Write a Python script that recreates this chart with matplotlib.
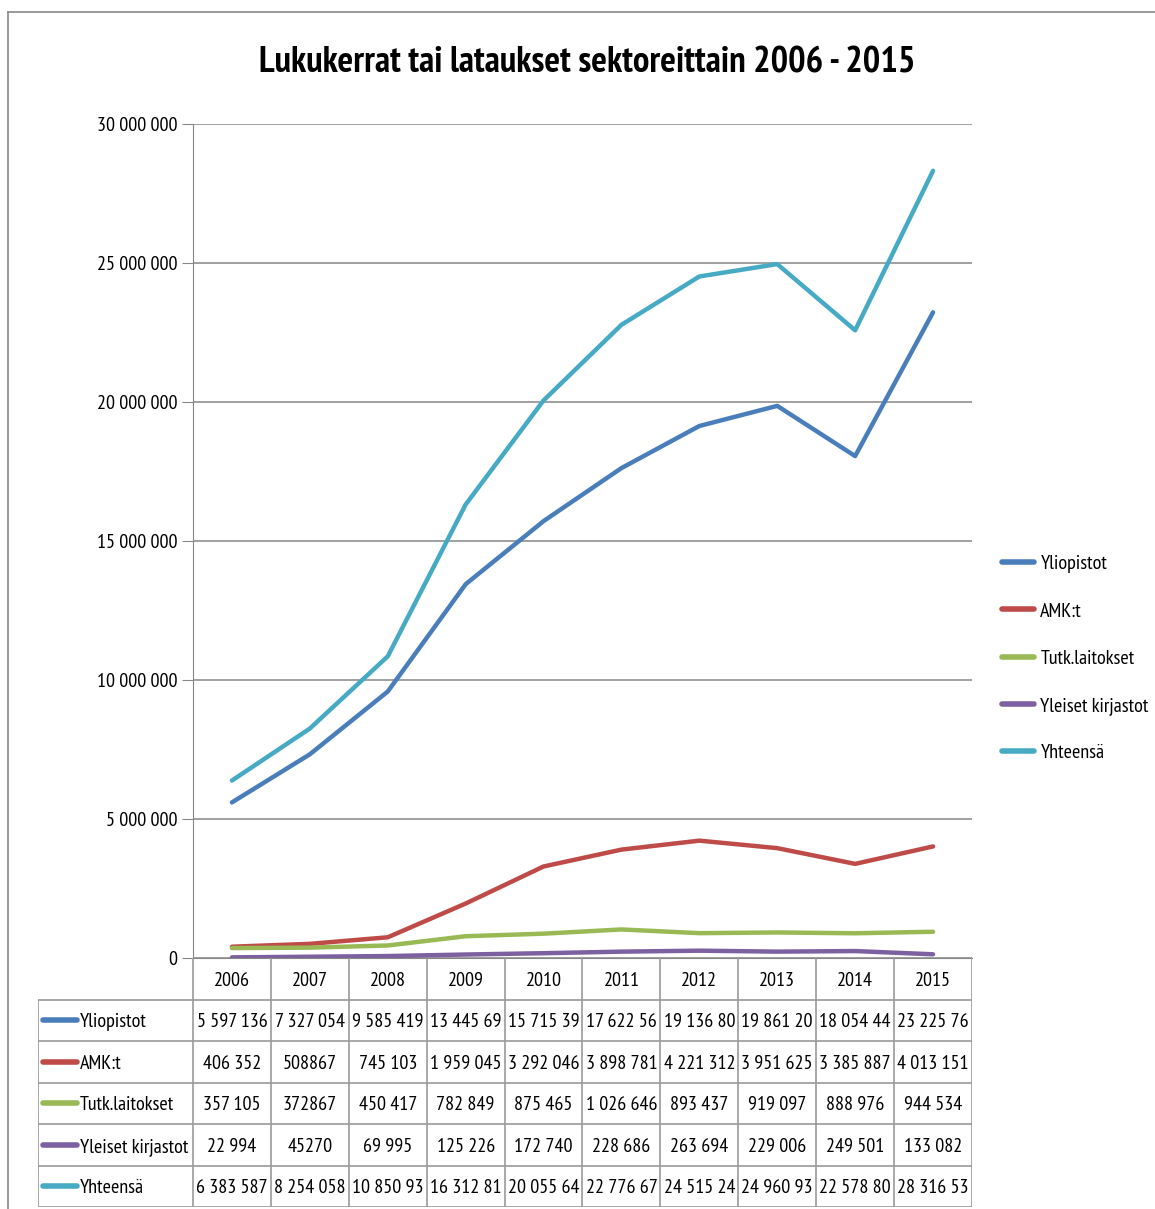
import matplotlib
matplotlib.use("Agg")
import matplotlib.pyplot as plt
from matplotlib.lines import Line2D

years = ["2006", "2007", "2008", "2009", "2010", "2011", "2012", "2013", "2014", "2015"]
yliopistot = [5597136, 7327054, 9585419, 13445690, 15715390, 17622560, 19136800, 19861200, 18054440, 23225760]
amk = [406352, 508867, 745103, 1959045, 3292046, 3898781, 4221312, 3951625, 3385887, 4013151]
tutk = [357105, 372867, 450417, 782849, 875465, 1026646, 893437, 919097, 888976, 944534]
kirjastot = [22994, 45270, 69995, 125226, 172740, 228686, 263694, 229006, 249501, 133082]
yhteensa = [6383587, 8254058, 10850930, 16312810, 20055640, 22776670, 24515240, 24960930, 22578800, 28316530]

series = [
    ("Yliopistot", yliopistot, "#4a7ebb"),
    ("AMK:t", amk, "#be4b48"),
    ("Tutk.laitokset", tutk, "#98b954"),
    ("Yleiset kirjastot", kirjastot, "#7d60a0"),
    ("Yhteensä", yhteensa, "#46aac5"),
]
# cells (row, column) that the source table shows without thousands separator
plain_cells = {(2, 1), (3, 1), (4, 1)}

plt.rcParams["font.family"] = ["PT Sans Narrow", "DejaVu Sans"]
FS = 14.5

W, H = 1155, 1209
fig = plt.figure(figsize=(W / 100, H / 100), dpi=100)

def px_axes(x0, y0, x1, y1):
    return fig.add_axes([x0 / W, 1 - y1 / H, (x1 - x0) / W, (y1 - y0) / H])

# outer chart frame
fig.add_artist(Line2D([8 / W, 8 / W], [0, 1 - 12 / H], transform=fig.transFigure, color="#888888", lw=1.2))
fig.add_artist(Line2D([8 / W, 1], [1 - 12 / H, 1 - 12 / H], transform=fig.transFigure, color="#888888", lw=1.2))

ax = px_axes(193, 124, 972, 958)
x = list(range(len(years)))
for name, vals, col in series:
    ax.plot(x, vals, color=col, lw=3.2, label=name, solid_capstyle="round")

ax.set_xlim(-0.5, len(years) - 0.5)
ax.set_ylim(0, 30000000)
ax.set_yticks(range(0, 30000001, 5000000))
ax.set_yticklabels([f"{v:,}".replace(",", " ") for v in range(0, 30000001, 5000000)], fontsize=FS)
ax.set_xticks([])
ax.grid(axis="y", color="#868686", lw=1.1)
ax.set_axisbelow(True)
for s in ["top", "right"]:
    ax.spines[s].set_visible(False)
ax.spines["left"].set_color("#868686")
ax.spines["bottom"].set_color("#868686")
ax.tick_params(axis="y", length=8, color="#868686", pad=3)

fig.text(587 / W, 1 - 63 / H, "Lukukerrat tai lataukset sektoreittain 2006 - 2015",
         ha="center", va="center", fontsize=26.5, fontweight="bold")

leg = fig.legend(loc="upper left", bbox_to_anchor=(984 / W, 1 - 537 / H), frameon=False,
                 fontsize=FS, handlelength=1.6, handletextpad=0.3, labelspacing=1.45)
for h in leg.get_lines():
    h.set_linewidth(4)

# data table under the plot, columns follow the category axis
label_w = (193 - 38) / (779 / len(years))
tax = px_axes(38, 958, 972, 1207)
tax.set_xlim(-0.5 - label_w, len(years) - 0.5)
tax.set_ylim(6, 0)
tax.axis("off")
grid_kw = dict(color="#9a9a9a", lw=1.2)
for i in range(len(years) + 1):
    tax.plot([i - 0.5, i - 0.5], [0, 6], **grid_kw)
tax.plot([-0.5 - label_w] * 2, [1, 6], **grid_kw)
for r in range(1, 7):
    tax.plot([-0.5 - label_w, len(years) - 0.5], [r, r], **grid_kw)

def fmt(v, plain=False):
    s = str(v) if plain else f"{v:,}".replace(",", " ")
    return s[:9]

for i, yr in enumerate(years):
    tax.text(i, 0.55, yr, ha="center", va="center", fontsize=FS)
for r, (name, vals, col) in enumerate(series, start=1):
    kx0 = -0.5 - label_w + 0.06
    tax.plot([kx0, kx0 + 0.44], [r + 0.5, r + 0.5], color=col, lw=4, solid_capstyle="round")
    tax.text(kx0 + 0.48, r + 0.55, name, ha="left", va="center", fontsize=FS)
    for i, v in enumerate(vals):
        tax.text(i, r + 0.55, fmt(v, (r, i) in plain_cells), ha="center", va="center", fontsize=FS)

fig.savefig("out.png", dpi=100)
